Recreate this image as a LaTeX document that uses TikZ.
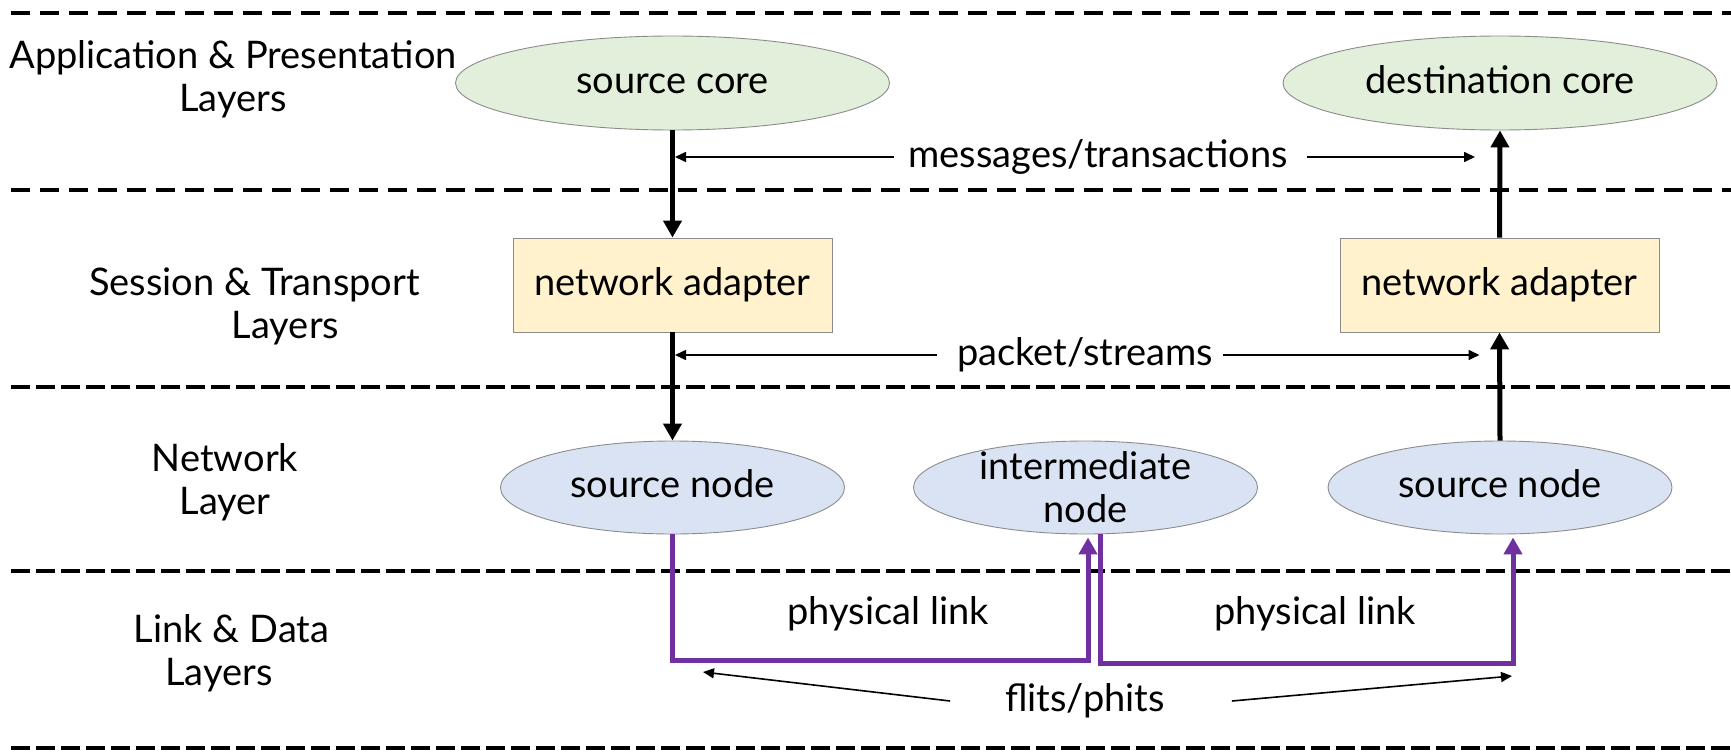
\documentclass[tikz,border=0pt]{standalone}
\usepackage{fontspec}
\setmainfont{Lato}
\usetikzlibrary{arrows.meta,shapes.geometric,calc}

\definecolor{coregreen}{HTML}{E2EFDA}
\definecolor{adapteryellow}{HTML}{FFF2CC}
\definecolor{nodeblue}{HTML}{DAE3F3}
\definecolor{linkpurple}{HTML}{7030A0}
\definecolor{outlinegray}{HTML}{8C8C8C}

\newcommand\diagfont{\fontsize{38}{43.2}\selectfont}

\tikzset{
  txt/.style={font=\diagfont, text height=27pt, text depth=7pt, inner sep=0pt},
  txtml/.style={font=\diagfont, align=center, inner sep=0pt},
  layerlabel/.style={font=\diagfont, align=center, inner sep=0pt},
  coreell/.style={ellipse, draw=outlinegray, line width=0.9pt, fill=coregreen,
    minimum width=434pt, minimum height=94pt, txt},
  netell/.style={ellipse, draw=outlinegray, line width=0.9pt, fill=nodeblue,
    minimum width=344pt, minimum height=93pt, txt},
  adapter/.style={rectangle, draw=outlinegray, line width=0.9pt, fill=adapteryellow,
    minimum width=319pt, minimum height=94pt, txt},
  bigarrow/.style={line width=5pt, -{Triangle[width=18pt,length=17pt]}},
  smallarrow/.style={line width=1.6pt, -{Triangle[width=10pt,length=11pt]}},
  linkarrow/.style={draw=linkpurple, line width=5pt, -{Triangle[width=18pt,length=17pt]}},
  upperdash/.style={line width=4.2pt, dash pattern=on 19pt off 10pt},
  lowerdash/.style={line width=3.7pt, dash pattern=on 19pt off 6pt},
}

\begin{document}
\begin{tikzpicture}[x=1pt,y=-1pt]
  \fill[white] (0,0) rectangle (1731,752);
  \useasboundingbox (0,0) rectangle (1731,752);

  % layer separators
  \draw[upperdash] (11,13) -- (1731,13);
  \draw[upperdash] (11,190) -- (1731,190);
  \draw[lowerdash] (11,387) -- (1731,387);
  \draw[lowerdash] (11,571) -- (1731,571);
  \draw[lowerdash] (11,748) -- (1731,748);

  % layer names
  \node[layerlabel] (lapp) at (233,79) {Application \& Presentation\\Layers};
  \node[layerlabel] (lses) at (254.5,306) {Session \& Transport\\\hspace*{62pt}Layers};
  \node[layerlabel] (lnet) at (225,482) {Network\\Layer};
  \node[layerlabel] (llink) at (231.5,653) {Link \& Data\\\hspace*{-25pt}Layers};

  % cores, adapters and network nodes
  \node[coreell] (sc) at (672.5,83) {source core};
  \node[coreell] (dc) at (1500,83) {destination core};
  \node[adapter] (sa) at (672.5,285) {network adapter};
  \node[adapter] (da) at (1499.5,285) {network adapter};
  \node[netell] (sn) at (672.5,487.5) {source node};
  \node[netell, label={[txtml]center:intermediate\\node}] (in) at (1085.5,487.5) {};
  \node[netell] (dn) at (1500,487.5) {source node};

  % vertical data path
  \draw[bigarrow] (sc.south) -- (sa.north);
  \draw[bigarrow] (sa.south) -- (sn.north);
  \draw[bigarrow] (dn.north) -- (da.south);
  \draw[bigarrow] (da.north) -- (dc.south);

  % end-to-end units
  \node[txt] (msg) at (1098,157) {messages/transactions};
  \draw[smallarrow] ([xshift=-14pt]msg.west) -- ([xshift=2.5pt]msg.west -| sc.south);
  \draw[smallarrow] ([xshift=19pt]msg.east) -- ([xshift=-25pt]msg.east -| dc.south);

  \node[txt] (pkt) at (1085,355) {packet/streams};
  \draw[smallarrow] ([xshift=-20pt]pkt.west) -- ([xshift=2.5pt]pkt.west -| sa.south);
  \draw[smallarrow] ([xshift=10pt]pkt.east) -- ([xshift=-20pt]pkt.east -| da.south);

  % physical links
  \coordinate (bendA) at (1088,660);
  \coordinate (bendB) at (1100,663);
  \coordinate (bendC) at (1513,663);
  \draw[linkarrow, shorten >=3pt] (sn.south) |- (bendA) -- (bendA |- in.south);
  \draw[linkarrow, shorten >=3pt] (bendB |- in.south) -- (bendB) -- (bendC) -- (bendC |- dn.south);

  \node[txt] (pla) at (888,614) {physical link};
  \node[txt] (plb) at (1315,614) {physical link};

  % flow control units
  \node[txt] (fl) at (1085,701) {flits/phits};
  \coordinate (flitsL) at (703,672);
  \coordinate (flitsR) at (1512,676);
  \draw[smallarrow] ([xshift=-55pt]fl.west) -- (flitsL);
  \draw[smallarrow] ([xshift=67pt]fl.east) -- (flitsR);
\end{tikzpicture}
\end{document}
